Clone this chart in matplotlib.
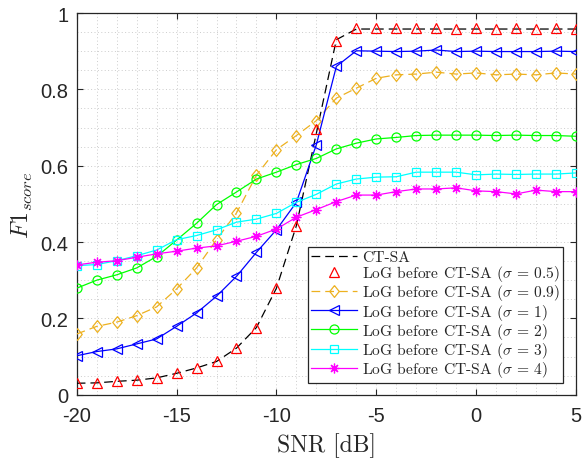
import numpy as np
import matplotlib
matplotlib.use("Agg")
import matplotlib.pyplot as plt
from matplotlib.ticker import MultipleLocator

# ---------------- data ----------------
snr = list(range(-20, 6))

ct_sa = [0.030, 0.031, 0.035, 0.038, 0.044, 0.056, 0.070, 0.087, 0.122, 0.176,
         0.279, 0.443, 0.685, 0.930, 0.958, 0.958, 0.958, 0.958, 0.958, 0.958,
         0.958, 0.958, 0.958, 0.958, 0.958, 0.958]
log_05 = [0.030, 0.031, 0.035, 0.038, 0.044, 0.056, 0.070, 0.087, 0.122, 0.176,
          0.279, 0.443, 0.696, 0.927, 0.960, 0.960, 0.960, 0.960, 0.962, 0.957,
          0.962, 0.957, 0.960, 0.957, 0.962, 0.957]
log_09 = [0.159, 0.179, 0.190, 0.207, 0.230, 0.277, 0.332, 0.406, 0.476, 0.575,
          0.642, 0.679, 0.718, 0.777, 0.803, 0.829, 0.838, 0.840, 0.845, 0.840,
          0.843, 0.838, 0.840, 0.838, 0.843, 0.840]
log_1 = [0.102, 0.113, 0.120, 0.133, 0.146, 0.179, 0.214, 0.258, 0.310, 0.373,
         0.432, 0.504, 0.655, 0.860, 0.901, 0.900, 0.899, 0.900, 0.903, 0.899,
         0.900, 0.899, 0.899, 0.899, 0.900, 0.899]
log_2 = [0.279, 0.300, 0.314, 0.332, 0.362, 0.405, 0.449, 0.498, 0.531, 0.565,
         0.583, 0.603, 0.619, 0.644, 0.659, 0.670, 0.674, 0.679, 0.680, 0.680,
         0.680, 0.679, 0.680, 0.679, 0.679, 0.677]
log_3 = [0.338, 0.341, 0.351, 0.364, 0.379, 0.406, 0.417, 0.432, 0.452, 0.460,
         0.475, 0.504, 0.525, 0.552, 0.565, 0.570, 0.571, 0.583, 0.583, 0.583,
         0.576, 0.578, 0.577, 0.578, 0.578, 0.581]
log_4 = [0.340, 0.347, 0.351, 0.360, 0.369, 0.376, 0.384, 0.390, 0.402, 0.415,
         0.434, 0.465, 0.485, 0.506, 0.523, 0.523, 0.532, 0.539, 0.539, 0.542,
         0.534, 0.532, 0.526, 0.536, 0.532, 0.532]

labels = ["CT-SA",
          r"LoG before CT-SA ($\sigma$ = 0.5)",
          r"LoG before CT-SA ($\sigma$ = 0.9)",
          r"LoG before CT-SA ($\sigma$ = 1)",
          r"LoG before CT-SA ($\sigma$ = 2)",
          r"LoG before CT-SA ($\sigma$ = 3)",
          r"LoG before CT-SA ($\sigma$ = 4)"]

xticks = [-20, -15, -10, -5, 0, 5]
xticklabels = ["-20", "-15", "-10", "-5", "0", "5"]
yticks = [0, 0.2, 0.4, 0.6, 0.8, 1.0]
yticklabels = ["0", "0.2", "0.4", "0.6", "0.8", "1"]

# ---------------- style ----------------
plt.rcParams['mathtext.fontset'] = 'cm'
plt.rcParams['axes.unicode_minus'] = False
plt.rcParams['axes.formatter.use_mathtext'] = True

fig = plt.figure(figsize=(5.82, 4.60), dpi=100)
ax = fig.add_axes([76.7 / 582, (460 - 395.7) / 460, (576 - 76.7) / 582, (395.7 - 14) / 460])

orange = (0.929, 0.694, 0.125)
lw = 0.9
ms = 6.5
diamond = [(0, 1), (0.8, 0), (0, -1), (-0.8, 0), (0, 1)]

ax.plot(snr, ct_sa, color='k', lw=lw, dashes=(7, 4), label=labels[0], zorder=3)
ax.plot(snr, log_05, ls='none', marker='^', color='r', mfc='none', ms=7.5, mew=lw,
        label=labels[1], zorder=4)
ax.plot(snr, log_09, color=orange, lw=lw, dashes=(7, 4), marker=diamond, mfc='none', ms=8.5,
        mew=lw, label=labels[2], zorder=3)
ax.plot(snr, log_1, color='b', lw=lw, marker='<', mfc='none', ms=7.5, mew=lw,
        label=labels[3], zorder=3)
ax.plot(snr, log_2, color=(0, 1, 0), lw=lw, marker='o', mfc='none', ms=ms, mew=lw,
        label=labels[4], zorder=3)
ax.plot(snr, log_3, color=(0, 1, 1), lw=lw, marker='s', mfc='none', ms=5.3, mew=lw,
        label=labels[5], zorder=3)
ax.plot(snr, log_4, color=(1, 0, 1), lw=lw, marker=(8, 2, 0), ms=7, mew=lw,
        label=labels[6], zorder=3)

ax.set_xlim(-20, 5)
ax.set_ylim(0, 1)
ax.set_xticks(xticks)
ax.set_xticklabels(xticklabels)
ax.set_yticks(yticks)
ax.set_yticklabels(yticklabels)
ax.xaxis.set_minor_locator(MultipleLocator(1))
ax.yaxis.set_minor_locator(MultipleLocator(0.05))

grid_kw = dict(color=(0.8, 0.8, 0.8), lw=0.7, linestyle=(0, (1, 2.5)))
ax.grid(True, which='major', **grid_kw)
ax.grid(True, which='minor', **grid_kw)
ax.set_axisbelow(True)

edge = (0.15, 0.15, 0.15)
for s in ax.spines.values():
    s.set_color(edge)
    s.set_linewidth(0.9)
ax.tick_params(which='major', direction='in', length=4, width=0.8, color=edge,
               top=True, right=True, labelsize=14.5, labelcolor=edge)
ax.tick_params(axis='x', which='major', pad=8)
ax.tick_params(axis='y', which='major', pad=6)
ax.tick_params(which='minor', length=0, top=True, right=True)
for t in ax.get_xticklabels() + ax.get_yticklabels():
    t.set_fontfamily('Liberation Sans')

ax.set_xlabel("SNR [dB]", fontfamily='cmr10', fontsize=17, color=edge, labelpad=5.5)
ax.set_ylabel(r"$F1_{score}$", fontsize=17, color=edge, labelpad=4)

leg = ax.legend(loc='lower right', bbox_to_anchor=(1 - 13 / 499.3, 12 / 381.7),
                prop={'family': 'cmr10', 'size': 11.2}, frameon=True, fancybox=False,
                edgecolor=edge, framealpha=1, borderpad=0.22, labelspacing=-0.05,
                handlelength=2.95, handletextpad=0.3, borderaxespad=0)
leg.get_frame().set_linewidth(0.9)
for t in leg.get_texts():
    t.set_color(edge)

fig.savefig("out.png", dpi=100)
